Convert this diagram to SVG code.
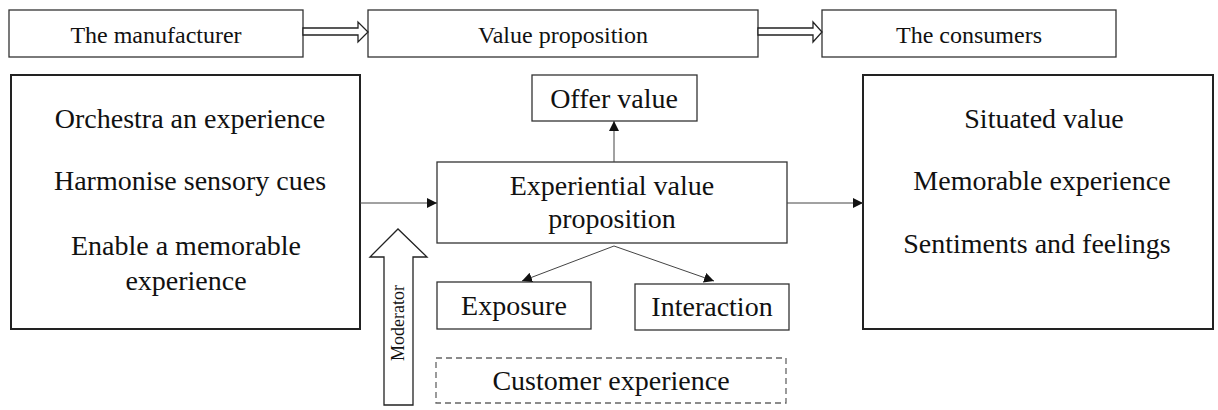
<svg xmlns="http://www.w3.org/2000/svg" width="1218" height="410" viewBox="0 0 1218 410">
<style>
text{fill:#111;text-anchor:middle}
.t24{font-size:24px}
.t28{font-size:28px}
.box{fill:#fff;stroke:#333;stroke-width:1.3}
.big{fill:#fff;stroke:#222;stroke-width:2}
.dash{fill:none;stroke:#666;stroke-width:1.3;stroke-dasharray:6 4}
.ln{stroke:#444;stroke-width:1;fill:none}
.hollow{fill:#fff;stroke:#222;stroke-width:1.3}
</style>
<defs>
<marker id="ah" viewBox="0 0 10 10" refX="10" refY="5" markerWidth="10" markerHeight="10" markerUnits="userSpaceOnUse" orient="auto">
<path d="M0,0 L10,5 L0,10 Z" fill="#111"/>
</marker>
</defs>
<g font-family="Liberation Serif, DejaVu Serif, serif">
<g id="manufacturer"><rect class="box" x="9" y="10" width="294" height="47"/><text class="t24" x="156" y="43">The manufacturer</text></g>
<g id="valueprop"><rect class="box" x="368" y="10" width="390" height="47"/><text class="t24" x="563" y="43">Value proposition</text></g>
<g id="consumers"><rect class="box" x="822" y="10" width="294" height="47"/><text class="t24" x="969" y="43">The consumers</text></g>
<g id="leftbox"><rect class="big" x="11" y="75" width="349" height="254"/>
<text class="t28" x="190" y="128">Orchestra an experience</text>
<text class="t28" x="190" y="190">Harmonise sensory cues</text>
<text class="t28" x="186" y="255">Enable a memorable</text>
<text class="t28" x="186" y="290">experience</text></g>
<g id="rightbox"><rect class="big" x="863" y="75" width="350" height="254"/>
<text class="t28" x="1044" y="128">Situated value</text>
<text class="t28" x="1042" y="190">Memorable experience</text>
<text class="t28" x="1037" y="253">Sentiments and feelings</text></g>
<g id="offer"><rect class="box" x="532" y="75" width="165" height="46"/><text class="t28" x="614" y="108">Offer value</text></g>
<g id="evp"><rect class="box" x="437" y="162" width="350" height="81"/><text class="t28" x="612" y="195">Experiential value</text><text class="t28" x="612" y="228">proposition</text></g>
<g id="exposure"><rect class="box" x="437" y="282" width="154" height="47"/><text class="t28" x="514" y="315">Exposure</text></g>
<g id="interaction"><rect class="box" x="635" y="284" width="154" height="46"/><text class="t28" x="712" y="316">Interaction</text></g>
<g id="custexp"><rect class="dash" x="436" y="358" width="350" height="45"/><text class="t28" x="611" y="390">Customer experience</text></g>
<g id="moderator"><path class="hollow" d="M384,405 L384,257 L370,257 L398,229 L427,257 L413,257 L413,405 Z"/><text x="398" y="323" style="font-size:18px" transform="rotate(-90 398 323)" dy="6">Moderator</text></g>
</g>
<g id="connectors">
<path class="hollow" d="M303,28 L358,28 L358,22 L368,32 L358,42 L358,35 L303,35 Z"/>
<path class="hollow" d="M758,28 L813,28 L813,22 L822,32 L813,42 L813,35 L758,35 Z"/>
<line class="ln" x1="360" y1="203" x2="437" y2="203" marker-end="url(#ah)"/>
<line class="ln" x1="787" y1="203" x2="863" y2="203" marker-end="url(#ah)"/>
<line class="ln" x1="614" y1="162" x2="614" y2="121" marker-end="url(#ah)"/>
<line class="ln" x1="614" y1="246" x2="522" y2="281" marker-end="url(#ah)"/>
<line class="ln" x1="614" y1="246" x2="714" y2="281" marker-end="url(#ah)"/>
</g>
</svg>
